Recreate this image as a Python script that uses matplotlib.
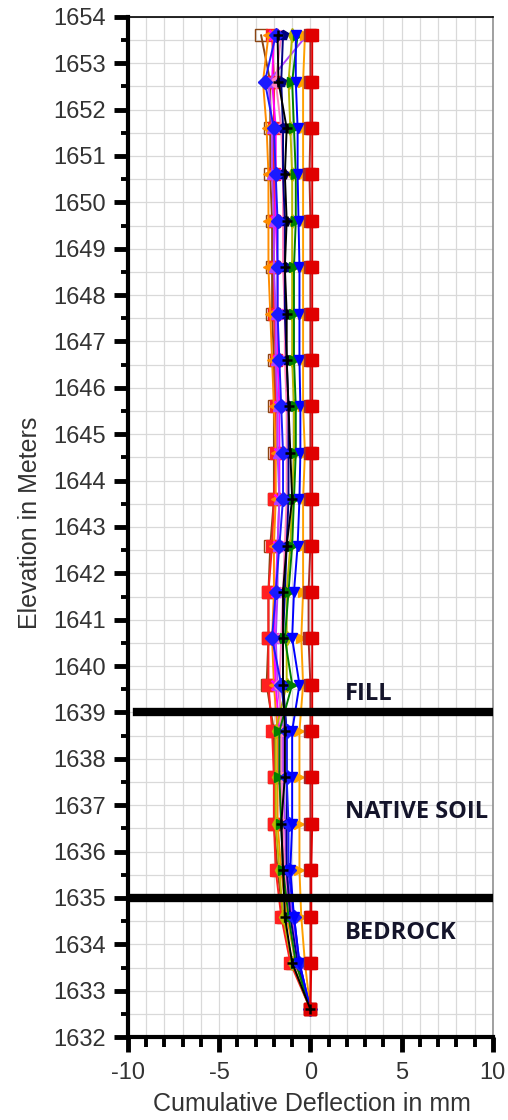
"""
Inclinometer profile: cumulative deflection vs elevation, with soil layer bands.
"""

import matplotlib
matplotlib.use("Agg")
import matplotlib.pyplot as plt
from matplotlib.ticker import MultipleLocator

# ---------------------------------------------------------------------------
# data
# ---------------------------------------------------------------------------

elevation = [1653.6, 1652.6, 1651.6, 1650.6, 1649.6, 1648.6, 1647.6, 1646.6,
             1645.6, 1644.6, 1643.6, 1642.6, 1641.6, 1640.6, 1639.6, 1638.6,
             1637.6, 1636.6, 1635.6, 1634.6, 1633.6, 1632.6]

red_sq    = [0.1, 0.1, 0.1, 0.1, 0.1, 0.1, 0.1, 0.1, 0.1, 0.1, 0.1,
             0.1, 0.1, 0.1, 0.1, 0.1, 0.1, 0.1, 0.05, 0.05, 0.05, 0.0]
dkred_sq  = [0.0, 0.0, 0.0, -0.05, 0.0, 0.0, 0.0, 0.0, 0.0, 0.0, 0.0,
             0.0, -0.1, -0.1, 0.0, 0.0, 0.0, 0.0, 0.0, 0.0, 0.0, 0.0]
blue_tri  = [-0.8, -0.8, -0.7, -0.7, -0.65, -0.6, -0.6, -0.6, -0.55, -0.55, -0.6,
             -0.7, -0.9, -1.0, -0.6, -1.0, -1.0, -1.0, -1.1, -0.9, -0.6, 0.0]
blue_dia  = [-1.9, -2.5, -2.0, -1.9, -1.8, -1.8, -1.8, -1.7, -1.6, -1.5, -1.5,
             -1.7, -1.9, -2.1, -1.6, -1.3, -1.3, -1.2, -1.2, -0.9, -0.6, 0.0]
black_star = [-1.8, -1.75, -1.3, -1.4, -1.3, -1.4, -1.3, -1.3, -1.2, -1.1, -1.0,
              -1.3, -1.5, -1.5, -1.5, -1.4, -1.4, -1.6, -1.5, -1.4, -1.0, 0.0]
orange    = [-2.3, -2.6, -2.4, -2.3, -2.3, -2.3, -2.2, -2.1, -2.0, -1.9, -1.9,
             -2.0, -2.0, -2.1, -2.0, -1.8, -1.8, -1.8, -1.6, -1.3, -0.8, 0.0]
purple    = [-0.2, -2.3, -2.1, -2.1, -2.0, -2.0, -1.9, -1.9, -1.8, -1.8, -1.7,
             -1.8, -1.8, -1.9, -1.8, -1.5, -1.5, -1.4, -1.3, -1.0, -0.6, 0.0]
green     = [-0.7, -1.0, -0.9, -0.8, -0.8, -0.9, -0.9, -0.9, -0.8, -0.8, -0.9,
             -1.0, -1.2, -1.4, -1.0, -1.7, -1.7, -1.6, -1.5, -1.2, -0.8, 0.0]
brown_sq  = [-2.7, -2.2, -2.2, -2.2, -2.1, -2.1, -2.1, -2.0, -2.0, -2.0, -2.0,
             -2.2, -2.3, -2.3, -2.4, -2.0, -2.0, -2.0, -1.8, -1.5, -1.0, 0.0]
red_sq2   = [-2.1, -2.0, -2.0, -2.0, -2.0, -2.0, -2.0, -1.9, -1.9, -1.9, -2.0,
             -2.1, -2.3, -2.3, -2.3, -2.1, -2.0, -2.0, -1.9, -1.6, -1.1, 0.0]
magenta   = [-2.0, -2.1, -1.9, -1.9, -1.9, -1.8, -1.8, -1.8, -1.7, -1.7, -1.7,
             -1.8, -1.9, -2.0, -1.9, -1.7, -1.7, -1.6, -1.4, -1.1, -0.7, 0.0]
pink      = [-1.6, -1.9, -1.6, -1.5, -1.5, -1.5, -1.4, -1.4, -1.3, -1.3, -1.3,
             -1.4, -1.5, -1.6, -1.7, -1.6, -1.6, -1.5, -1.4, -1.2, -0.8, 0.0]
olive     = [-1.0, -1.2, -1.1, -1.0, -1.0, -1.0, -1.0, -1.0, -0.9, -0.9, -1.0,
             -1.1, -1.3, -1.3, -1.3, -1.9, -1.9, -1.9, -1.7, -1.5, -1.0, 0.0]
orange2   = [-0.3, -0.4, -0.4, -0.4, -0.4, -0.4, -0.4, -0.4, -0.4, -0.3, -0.4,
             -0.4, -0.4, -0.5, -0.4, -0.6, -0.6, -0.6, -0.6, -0.5, -0.3, 0.0]
navy      = [-1.5, -1.6, -1.5, -1.5, -1.4, -1.4, -1.4, -1.3, -1.2, -1.2, -1.2,
             -1.3, -1.4, -1.5, -1.5, -1.3, -1.3, -1.3, -1.3, -1.1, -0.7, 0.0]

layer_bounds = [1639.0, 1635.0]
layer_names = ["FILL", "NATIVE SOIL", "BEDROCK"]
layer_label_y = [1639.4, 1636.85, 1634.25]

# (values, colour, marker, filled)
series = [
    (brown_sq,   "#8b4513", "s", False),
    (red_sq2,    "#ff2020", "s", True),
    (orange,     "#ff8c00", "<", True),
    (magenta,    "#ff00ff", "x", True),
    (purple,     "#b040ff", "^", True),
    (pink,       "#ff80c0", "o", True),
    (olive,      "#b8b800", "d", True),
    (navy,       "#000080", "p", True),
    (green,      "#008000", ">", True),
    (orange2,    "#ffa000", ">", True),
    (blue_dia,   "#1a1aff", "D", True),
    (blue_tri,   "#0000ff", "v", True),
    (dkred_sq,   "#a52a2a", "s", True),
    (red_sq,     "#e00000", "s", True),
    (black_star, "#000000", "+", True),
]

# ---------------------------------------------------------------------------
# figure
# ---------------------------------------------------------------------------

plt.rcParams["font.family"] = ["Liberation Sans", "DejaVu Sans"]
plt.rcParams["axes.unicode_minus"] = False

fig = plt.figure(figsize=(5.08, 11.2), dpi=100)
ax = fig.add_axes([0.252, 0.074, 0.718, 0.911])

for vals, col, mk, filled in series:
    ax.plot(vals, elevation, "-", color=col, lw=1.4, marker=mk,
            ms=9 if mk == "s" else 7, mew=1.8 if mk in "+x" else 1.0,
            mfc=col if filled else "none", mec=col, zorder=3)

# layer boundaries
ax.axhline(layer_bounds[0], xmin=0.025, xmax=1.0, color="black", lw=6, zorder=4)
ax.axhline(layer_bounds[1], xmin=0.0, xmax=1.0, color="black", lw=6, zorder=4)
for name, yy in zip(layer_names, layer_label_y):
    ax.text(1.9, yy, name, fontsize=17, fontweight="bold", color="#14142a",
            family=["Open Sans", "DejaVu Sans"], va="center", ha="left", zorder=5)

ax.set_xlim(-10, 10)
ax.set_ylim(1632, 1654)
ax.xaxis.set_major_locator(MultipleLocator(5))
ax.xaxis.set_minor_locator(MultipleLocator(1))
ax.yaxis.set_major_locator(MultipleLocator(1))
ax.yaxis.set_minor_locator(MultipleLocator(0.5))

ax.grid(which="both", color="#d9d9d9", lw=0.9, zorder=0)
ax.set_axisbelow(True)

ax.spines["left"].set_linewidth(3)
ax.spines["bottom"].set_linewidth(3)
ax.spines["top"].set_linewidth(1.2)
ax.spines["right"].set_linewidth(1.2)
ax.spines["right"].set_color("#909090")

ax.tick_params(axis="y", which="major", direction="out", length=10, width=3.5,
               labelsize=17, labelcolor="#333333", pad=6)
ax.tick_params(axis="y", which="minor", direction="out", length=5, width=2.8)
ax.tick_params(axis="x", which="major", direction="out", length=11, width=3.5,
               labelsize=17, labelcolor="#333333", pad=7)
ax.tick_params(axis="x", which="minor", direction="out", length=7, width=2.8)

fig.text(312 / 508, 1 - 1104 / 1120, "Cumulative Deflection in mm",
         fontsize=18, color="#333333", ha="center", va="center")
fig.text(30 / 508, 1 - 523 / 1120, "Elevation in Meters", rotation=90,
         fontsize=18, color="#333333", ha="center", va="center")

fig.savefig("out.png", dpi=100)
plt.close(fig)
